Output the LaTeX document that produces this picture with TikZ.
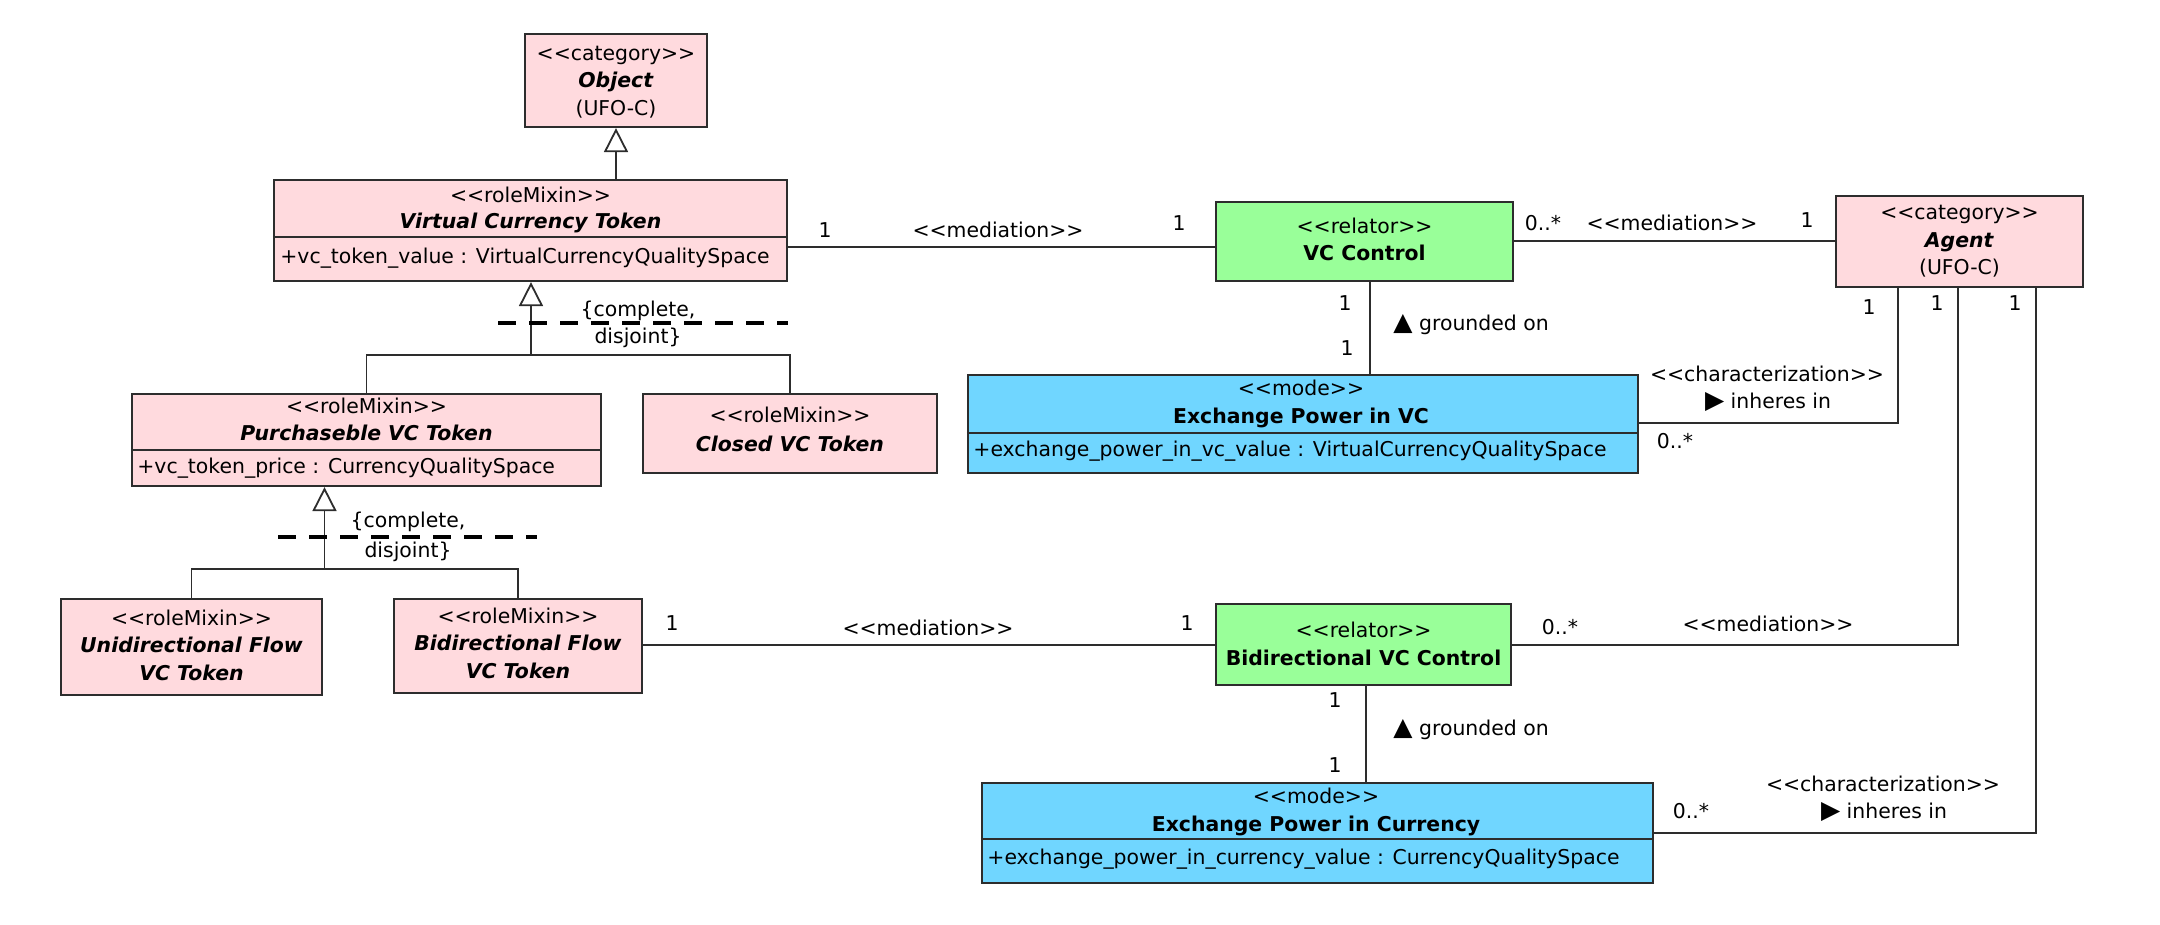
\documentclass[tikz,border=0pt]{standalone}
\usepackage{fontspec}
\setmainfont{DejaVu Sans}
\usetikzlibrary{arrows.meta}
\definecolor{pinkbox}{RGB}{255,218,222}
\definecolor{greenbox}{RGB}{153,255,153}
\definecolor{bluebox}{RGB}{112,214,255}
\definecolor{edgec}{RGB}{45,45,45}
\newcommand\stq[1]{<{}<#1>{}>}
\newcommand\uptri{{\fontsize{12.5}{12.5}\selectfont ▲}}
\newcommand\rtri{{\fontsize{12.5}{12.5}\selectfont ▶}}
\begin{document}
\begin{tikzpicture}[x=0.5pt,y=-0.5pt,font=\fontsize{10.2}{12.5}\selectfont,
  box/.style={draw=edgec,line width=1.1pt,inner sep=0pt},
  pinkb/.style={box,fill=pinkbox},
  greenb/.style={box,fill=greenbox},
  blueb/.style={box,fill=bluebox},
  txt/.style={inner sep=0pt,anchor=mid},
  attr/.style={inner sep=0pt,anchor=mid west},
  conn/.style={draw=edgec,line width=0.9pt},
  gen/.style={conn,-{Triangle[open,length=12pt,width=12pt,fill=white]}},
  gset/.style={draw=black,line width=1.9pt,dash pattern=on 9pt off 6.5pt},
  lbl/.style={inner sep=0pt,anchor=mid}]
\useasboundingbox (0,0) rectangle (2160,925);
% ---------- boxes ----------
\node[pinkb,minimum width=91pt,minimum height=46.5pt] (obj) at (616,80.5) {};
\node[txt] (objs) at (616,55) {\stq{category}};
\node[txt] (objn) at (616,82) {\textbf{\textit{Object}}};
\node[txt] (objp) at (616,110) {(UFO-C)};

\node[pinkb,minimum width=256.5pt,minimum height=50.5pt] (vct) at (530.5,230.5) {};
\draw[box] (vct.west |- 0,237) -- (vct.east |- 0,237);
\node[txt] (vcts) at (530.5,197) {\stq{roleMixin}};
\node[txt] (vctn) at (530.5,223) {\textbf{\textit{Virtual Currency Token}}};
\node[attr] (vcta) at (280,258) {+vc\_token\_value : VirtualCurrencyQualitySpace};

\node[pinkb,minimum width=234.5pt,minimum height=46pt] (pvt) at (366.5,440) {};
\draw[box] (pvt.west |- 0,450) -- (pvt.east |- 0,450);
\node[txt] (pvts) at (366.5,408) {\stq{roleMixin}};
\node[txt] (pvtn) at (366.5,435) {\textbf{\textit{Purchaseble VC Token}}};
\node[attr] (pvta) at (137,468) {+vc\_token\_price : CurrencyQualitySpace};

\node[pinkb,minimum width=147pt,minimum height=39.5pt] (cvt) at (790,433.5) {};
\node[txt] (cvts) at (790,417) {\stq{roleMixin}};
\node[txt] (cvtn) at (790,446) {\textbf{\textit{Closed VC Token}}};

\node[pinkb,minimum width=130.5pt,minimum height=48pt] (uft) at (191.5,647) {};
\node[txt] (ufts) at (191.5,620) {\stq{roleMixin}};
\node[txt] (uftn) at (191.5,647) {\textbf{\textit{Unidirectional Flow}}};
\node[txt] (uftm) at (191.5,675) {\textbf{\textit{VC Token}}};

\node[pinkb,minimum width=124pt,minimum height=47pt] (bft) at (518,646) {};
\node[txt] (bfts) at (518,618) {\stq{roleMixin}};
\node[txt] (bftn) at (518,645) {\textbf{\textit{Bidirectional Flow}}};
\node[txt] (bftm) at (518,673) {\textbf{\textit{VC Token}}};

\node[greenb,minimum width=148.5pt,minimum height=39.5pt] (vcc) at (1364.5,241.5) {};
\node[txt] (vccs) at (1364.5,228) {\stq{relator}};
\node[txt] (vccn) at (1364.5,255) {\textbf{VC Control}};

\node[pinkb,minimum width=123.5pt,minimum height=45.5pt] (agent) at (1959.5,241.5) {};
\node[txt] (ags) at (1959.5,214) {\stq{category}};
\node[txt] (agn) at (1959.5,242) {\textbf{\textit{Agent}}};
\node[txt] (agp) at (1959.5,269) {(UFO-C)};

\node[blueb,minimum width=335pt,minimum height=49pt] (epvc) at (1303,424) {};
\draw[box] (epvc.west |- 0,433) -- (epvc.east |- 0,433);
\node[txt] (epvcs) at (1301,390) {\stq{mode}};
\node[txt] (epvcn) at (1301,418) {\textbf{Exchange Power in VC}};
\node[attr] (epvca) at (973,451) {+exchange\_power\_in\_vc\_value : VirtualCurrencyQualitySpace};

\node[greenb,minimum width=147.5pt,minimum height=40.5pt] (bvcc) at (1363.5,644.5) {};
\node[txt] (bvccs) at (1363.5,632) {\stq{relator}};
\node[txt] (bvccn) at (1363.5,660) {\textbf{Bidirectional VC Control}};

\node[blueb,minimum width=335.5pt,minimum height=50pt] (epc) at (1317.5,833) {};
\draw[box] (epc.west |- 0,839) -- (epc.east |- 0,839);
\node[txt] (epcs) at (1316,798) {\stq{mode}};
\node[txt] (epcn) at (1316,826) {\textbf{Exchange Power in Currency}};
\node[attr] (epca) at (987,859) {+exchange\_power\_in\_currency\_value : CurrencyQualitySpace};

% ---------- generalizations ----------
\draw[gen] (vct.north -| obj.south) -- (obj.south);
\coordinate (j1) at (531,355);
\draw[conn] (pvt.north) |- (j1);
\draw[conn] (cvt.north) |- (j1);
\draw[gen] (j1) -- (j1 |- vct.south);
\draw[gset] (498,323) -- (788,323);
\node[lbl] (gs1a) at (638,311) {\{complete,};
\node[lbl] (gs1b) at (638,338) {disjoint\}};

\coordinate (j2) at (324.5,569);
\draw[conn] (uft.north) |- (j2);
\draw[conn] (bft.north) |- (j2);
\draw[gen] (j2) -- (j2 |- pvt.south);
\draw[gset] (278,537) -- (537,537);
\node[lbl] (gs2a) at (408,522) {\{complete,};
\node[lbl] (gs2b) at (408,552) {disjoint\}};

% ---------- associations ----------
\draw[conn] (vct.east |- 0,247) -- (vcc.west |- 0,247);
\node[lbl] (m1) at (825,232) {1};
\node[lbl] (m2) at (998,232) {\stq{mediation}};
\node[lbl] (m3) at (1179,225) {1};

\draw[conn] (vcc.east |- 0,241) -- (agent.west |- 0,241);
\node[lbl] (m4) at (1543,225) {0..*};
\node[lbl] (m5) at (1672,225) {\stq{mediation}};
\node[lbl] (m6) at (1807,222) {1};

\draw[conn] (vcc.south -| 1370,0) -- (epvc.north -| 1370,0);
\node[lbl] (g1) at (1345,305) {1};
\node[lbl] (g2) at (1347,350) {1};
\node[inner sep=0pt,anchor=mid west] (g3) at (1393,325) {\uptri\ grounded on};

\draw[conn] (epvc.east |- 0,423) -| (agent.south -| 1898,0);
\node[lbl] (a1) at (1869,309) {1};
\node[lbl] (c1) at (1767,376) {\stq{characterization}};
\node[lbl] (c2) at (1768,403) {\rtri\ inheres in};
\node[lbl] (c3) at (1675,443) {0..*};

\draw[conn] (bft.east |- 0,645) -- (bvcc.west |- 0,645);
\node[lbl] (b1) at (672,625) {1};
\node[lbl] (b2) at (928,630) {\stq{mediation}};
\node[lbl] (b3) at (1187,625) {1};

\draw[conn] (bvcc.east |- 0,645) -| (agent.south -| 1958,0);
\node[lbl] (a2) at (1937,305) {1};
\node[lbl] (b4) at (1560,629) {0..*};
\node[lbl] (b5) at (1768,626) {\stq{mediation}};

\draw[conn] (bvcc.south -| 1366,0) -- (epc.north -| 1366,0);
\node[lbl] (g4) at (1335,702) {1};
\node[lbl] (g5) at (1335,767) {1};
\node[inner sep=0pt,anchor=mid west] (g6) at (1393,730) {\uptri\ grounded on};

\draw[conn] (epc.east |- 0,833) -| (agent.south -| 2036,0);
\node[lbl] (a3) at (2015,305) {1};
\node[lbl] (c4) at (1883,786) {\stq{characterization}};
\node[lbl] (c5) at (1884,813) {\rtri\ inheres in};
\node[lbl] (c6) at (1691,813) {0..*};
\end{tikzpicture}
\end{document}
